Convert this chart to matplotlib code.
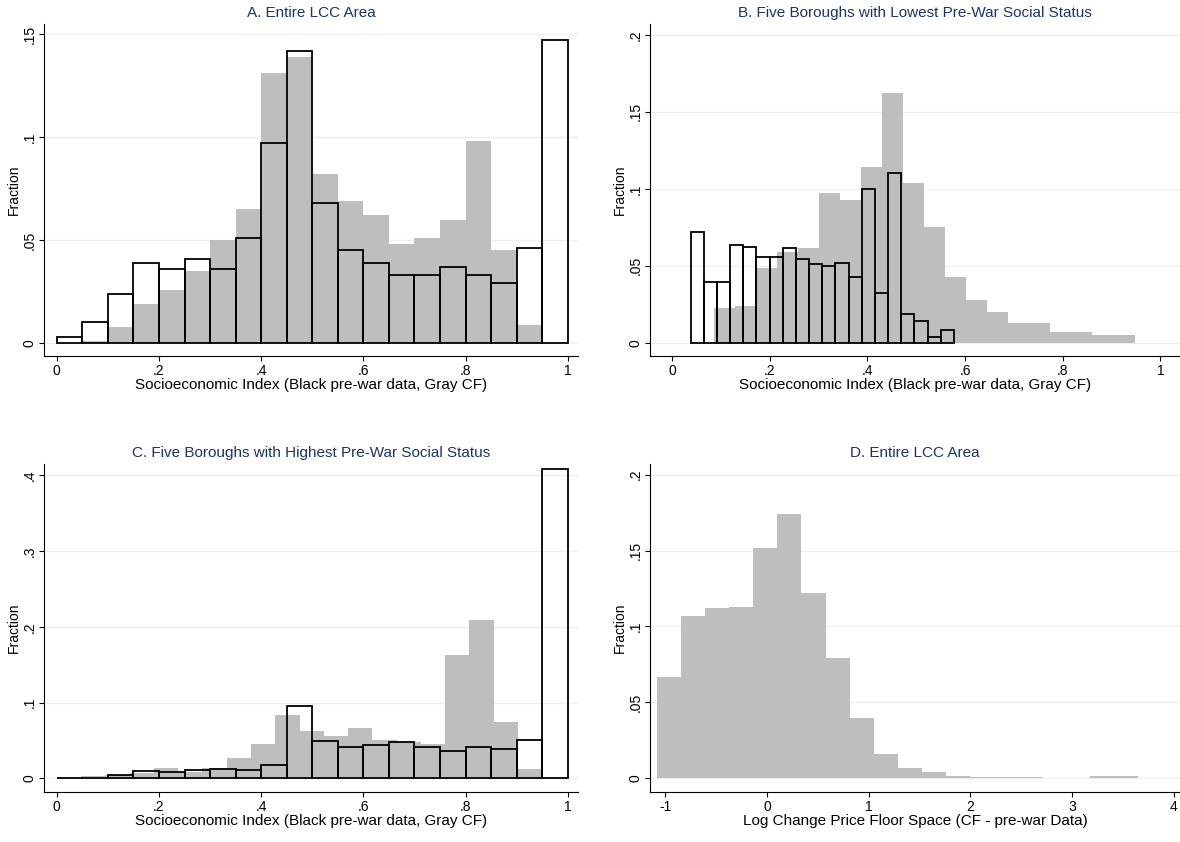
import matplotlib.pyplot as plt
import numpy as np

plt.rcParams['font.family'] = ['Liberation Sans', 'DejaVu Sans']

# Panel A: entire LCC area
a_black = [0.003, 0.010, 0.024, 0.039, 0.036, 0.041, 0.036, 0.051, 0.097, 0.142,
           0.068, 0.045, 0.039, 0.033, 0.033, 0.037, 0.033, 0.029, 0.046, 0.147]
a_gray = [0.0, 0.001, 0.008, 0.019, 0.026, 0.035, 0.050, 0.065, 0.131, 0.139,
          0.082, 0.069, 0.062, 0.048, 0.051, 0.060, 0.098, 0.045, 0.009, 0.0]
a_black_rng = (0.0, 1.0)
a_gray_rng = (0.0, 1.0)

# Panel B: lowest pre-war status boroughs
b_black = [0.0718, 0.0393, 0.0393, 0.0635, 0.0624, 0.0556, 0.0556, 0.0613, 0.0543, 0.0511,
           0.0500, 0.0521, 0.0430, 0.1002, 0.0325, 0.1105, 0.0188, 0.0143, 0.0038, 0.0085]
b_gray = [0.0229, 0.0239, 0.0485, 0.0592, 0.0618, 0.097, 0.0927, 0.114, 0.162, 0.104,
          0.075, 0.043, 0.028, 0.020, 0.013, 0.013, 0.007, 0.007, 0.005, 0.005]
b_black_rng = (0.038, 0.577)
b_gray_rng = (0.085, 0.947)

# Panel C: highest pre-war status boroughs
c_black = [0.0005, 0.001, 0.005, 0.010, 0.009, 0.011, 0.013, 0.011, 0.018, 0.096,
           0.049, 0.042, 0.044, 0.048, 0.041, 0.036, 0.042, 0.039, 0.050, 0.408]
c_gray = [0.0, 0.003, 0.004, 0.007, 0.014, 0.008, 0.014, 0.027, 0.046, 0.083,
          0.063, 0.056, 0.067, 0.050, 0.048, 0.046, 0.163, 0.209, 0.075, 0.012]
c_black_rng = (0.0, 1.0)
c_gray_rng = (0.0, 0.95)

# Panel D: log change price floor space
d_gray = [0.067, 0.107, 0.112, 0.113, 0.152, 0.174, 0.122, 0.079, 0.040, 0.016,
          0.007, 0.004, 0.0015, 0.0012, 0.001, 0.001, 0.0, 0.0, 0.0015, 0.0015]
d_gray_rng = (-1.08, 3.65)

gray = '#bebebe'
title_col = '#1c355e'
xlab_se = 'Socioeconomic Index (Black pre-war data, Gray CF)'


def hist_bars(ax, vals, rng, **kw):
    edges = np.linspace(rng[0], rng[1], len(vals) + 1)
    ax.bar(edges[:-1], vals, width=np.diff(edges), align='edge', **kw)


def style(ax, title, xlabel, xlim, ylim, xticks, xlabels, yticks, ylabels):
    ax.set_title(title, color=title_col, fontsize=11, pad=5)
    ax.set_xlabel(xlabel, fontsize=11, labelpad=0)
    ax.set_ylabel('Fraction', fontsize=10, labelpad=1)
    ax.set_xlim(*xlim)
    ax.set_ylim(*ylim)
    ax.set_xticks(xticks, xlabels)
    ax.set_yticks(yticks, ylabels)
    for lab in ax.get_yticklabels():
        lab.set_rotation(90)
        lab.set_va('center')
    ax.tick_params(labelsize=10, pad=2)
    ax.spines['top'].set_visible(False)
    ax.spines['right'].set_visible(False)
    ax.grid(axis='y', color='#eaf2f3', lw=1)
    ax.set_axisbelow(True)


fig = plt.figure(figsize=(11.8, 8.42), dpi=100)
W, H = 1180, 842


def axes_px(l, r, t, b):
    return fig.add_axes([l / W, 1 - b / H, (r - l) / W, (b - t) / H])


se_ticks = [0, 0.2, 0.4, 0.6, 0.8, 1.0]
se_labels = ['0', '.2', '.4', '.6', '.8', '1']

axA = axes_px(44, 578, 24, 356)
hist_bars(axA, a_gray, a_gray_rng, color=gray)
hist_bars(axA, a_black, a_black_rng, fill=False, edgecolor='black', lw=1.3)
style(axA, 'A. Entire LCC Area', xlab_se, (-0.025, 1.02), (-0.0063, 0.155),
      se_ticks, se_labels, [0, 0.05, 0.1, 0.15], ['0', '.05', '.1', '.15'])

axB = axes_px(650, 1180, 24, 356)
hist_bars(axB, b_gray, b_gray_rng, color=gray)
hist_bars(axB, b_black, b_black_rng, fill=False, edgecolor='black', lw=1.3)
style(axB, 'B. Five Boroughs with Lowest Pre-War Social Status', xlab_se, (-0.045, 1.04),
      (-0.0085, 0.207), se_ticks, se_labels, [0, 0.05, 0.1, 0.15, 0.2],
      ['0', '.05', '.1', '.15', '.2'])

axC = axes_px(44, 578, 464, 792)
hist_bars(axC, c_gray, c_gray_rng, color=gray)
hist_bars(axC, c_black, c_black_rng, fill=False, edgecolor='black', lw=1.3)
style(axC, 'C. Five Boroughs with Highest Pre-War Social Status', xlab_se, (-0.025, 1.02),
      (-0.018, 0.415), se_ticks, se_labels, [0, 0.1, 0.2, 0.3, 0.4],
      ['0', '.1', '.2', '.3', '.4'])

axD = axes_px(650, 1180, 464, 792)
hist_bars(axD, d_gray, d_gray_rng, color=gray)
style(axD, 'D. Entire LCC Area', 'Log Change Price Floor Space (CF - pre-war Data)',
      (-1.15, 4.06), (-0.009, 0.207), [-1, 0, 1, 2, 3, 4], ['-1', '0', '1', '2', '3', '4'],
      [0, 0.05, 0.1, 0.15, 0.2], ['0', '.05', '.1', '.15', '.2'])

fig.savefig('out.png', dpi=100)
